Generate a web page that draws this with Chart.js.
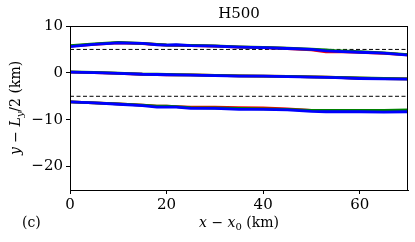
<!DOCTYPE html>
<html>
<head>
<meta charset="utf-8">
<script src="https://cdn.jsdelivr.net/npm/chart.js@4"></script>
<style>
  html, body { margin: 0; padding: 0; background: #fff; }
  #wrap { width: 415px; height: 242px; }
</style>
</head>
<body>
<div id="wrap"><canvas id="frontChart" width="415" height="242"></canvas></div>
<script>
// along-channel distance (km)
const xKm = [0, 5, 10, 15, 18, 20, 22, 25, 30, 35, 40, 45, 50, 53, 55, 60, 65, 70];

// upper front
const upperRed   = [5.7, 6.1, 6.4, 6.25, 6.05, 5.9, 5.85, 5.8, 5.7, 5.5, 5.4, 5.2, 4.9, 4.5, 4.55, 4.35, 4.15, 3.85];
const upperGreen = [5.8, 6.2, 6.5, 6.3, 6.1, 5.95, 5.9, 5.85, 5.75, 5.55, 5.45, 5.25, 5.05, 4.9, 4.75, 4.5, 4.25, 3.9];
const upperBlue  = [5.6, 6.1, 6.4, 6.3, 6.0, 5.9, 6.0, 5.8, 5.7, 5.5, 5.4, 5.2, 5.0, 4.7, 4.6, 4.4, 4.2, 3.8];

// centre line
const midRed   = [0.15, 0.05, -0.1, -0.3, -0.35, -0.4, -0.45, -0.45, -0.55, -0.65, -0.7, -0.75, -0.85, -0.9, -0.95, -1.15, -1.25, -1.3];
const midGreen = [0.2, 0.1, -0.05, -0.25, -0.3, -0.35, -0.4, -0.45, -0.55, -0.65, -0.7, -0.75, -0.85, -0.9, -0.95, -1.1, -1.2, -1.3];
const midBlue  = [0.15, 0.05, -0.1, -0.3, -0.35, -0.4, -0.45, -0.5, -0.6, -0.7, -0.7, -0.8, -0.9, -0.95, -1.0, -1.2, -1.3, -1.35];

// lower front
const lowerRed   = [-6.2, -6.4, -6.6, -6.9, -7.1, -7.1, -7.2, -7.3, -7.3, -7.4, -7.5, -7.7, -8.0, -8.1, -8.1, -8.1, -8.1, -8.0];
const lowerGreen = [-6.2, -6.4, -6.6, -6.9, -7.1, -7.1, -7.2, -7.4, -7.5, -7.6, -7.7, -7.8, -8.0, -8.0, -8.0, -8.0, -8.0, -7.9];
const lowerBlue  = [-6.2, -6.4, -6.7, -7.0, -7.3, -7.3, -7.3, -7.6, -7.6, -7.8, -7.8, -7.9, -8.2, -8.3, -8.3, -8.3, -8.4, -8.3];

// dashed reference levels
const dashedLevels = [5, -5];

const xTicks = [0, 20, 40, 60];
const yTicks = [10, 0, -10, -20];

const FONT = "'DejaVu Serif', 'Liberation Serif', serif";

function toPoints(ys) {
  return ys.map((y, i) => ({ x: xKm[i], y: y }));
}

function frontSet(ys, color, order) {
  return {
    data: toPoints(ys),
    borderColor: color,
    borderWidth: 2.8,
    pointRadius: 0,
    tension: 0,
    order: order
  };
}

const datasets = [];
[[upperRed, upperGreen, upperBlue], [midRed, midGreen, midBlue], [lowerRed, lowerGreen, lowerBlue]].forEach(group => {
  datasets.push(frontSet(group[0], '#ff0000', 3));
  datasets.push(frontSet(group[1], '#008000', 2));
  datasets.push(frontSet(group[2], '#0000ff', 1));
});
dashedLevels.forEach(level => {
  datasets.push({
    data: [{ x: 0, y: level }, { x: 70, y: level }],
    borderColor: '#000',
    borderWidth: 1,
    borderDash: [4, 2.5],
    pointRadius: 0,
    order: 4
  });
});

// frame + labels drawn on canvas (subscripts in the axis labels)
const decorations = {
  id: 'decorations',
  afterDraw(chart) {
    const { ctx, chartArea: a } = chart;
    ctx.save();
    ctx.strokeStyle = '#000';
    ctx.lineWidth = 1;
    ctx.strokeRect(a.left + 0.5, a.top + 0.5, a.right - a.left - 1, a.bottom - a.top);

    ctx.fillStyle = '#000';
    ctx.textBaseline = 'alphabetic';

    // title
    ctx.font = `15px ${FONT}`;
    ctx.textAlign = 'center';
    ctx.fillText('H500', (a.left + a.right) / 2, 18);

    // panel tag
    ctx.font = `14px ${FONT}`;
    ctx.textAlign = 'left';
    ctx.fillText('(c)', 22, 227);

    // x label: x − x0 (km)
    const parts = [
      { t: 'x', f: `italic 14px ${FONT}`, dy: 0 },
      { t: ' − ', f: `14px ${FONT}`, dy: 0 },
      { t: 'x', f: `italic 14px ${FONT}`, dy: 0 },
      { t: '0', f: `10px ${FONT}`, dy: 3 },
      { t: ' (km)', f: `14px ${FONT}`, dy: 0 }
    ];
    drawParts(ctx, parts, (a.left + a.right) / 2, 227);

    // y label: y − Ly/2 (km)
    ctx.translate(20, (a.top + a.bottom) / 2);
    ctx.rotate(-Math.PI / 2);
    const yParts = [
      { t: 'y', f: `italic 14px ${FONT}`, dy: 0 },
      { t: ' − ', f: `14px ${FONT}`, dy: 0 },
      { t: 'L', f: `italic 14px ${FONT}`, dy: 0 },
      { t: 'y', f: `italic 10px ${FONT}`, dy: 3 },
      { t: '/2 (km)', f: `14px ${FONT}`, dy: 0 }
    ];
    drawParts(ctx, yParts, 0, 0);
    ctx.restore();
  }
};

function drawParts(ctx, parts, cx, baseY) {
  let total = 0;
  parts.forEach(p => { ctx.font = p.f; total += ctx.measureText(p.t).width; });
  let x = cx - total / 2;
  ctx.textAlign = 'left';
  parts.forEach(p => {
    ctx.font = p.f;
    ctx.fillText(p.t, x, baseY + p.dy);
    x += ctx.measureText(p.t).width;
  });
}

new Chart(document.getElementById('frontChart'), {
  type: 'line',
  data: { datasets: datasets },
  options: {
    responsive: false,
    animation: false,
    layout: { padding: { top: 26, right: 7, left: 0, bottom: 0 } },
    plugins: { legend: { display: false }, tooltip: { enabled: false } },
    scales: {
      x: {
        type: 'linear',
        min: 0,
        max: 70,
        afterBuildTicks: s => { s.ticks = xTicks.map(v => ({ value: v })); },
        afterFit: s => { s.height = 52; },
        grid: { drawOnChartArea: false, tickLength: 4, color: '#000' },
        border: { color: '#000' },
        ticks: { color: '#000', padding: 2, maxRotation: 0, font: { family: FONT, size: 15 } }
      },
      y: {
        type: 'linear',
        min: -25,
        max: 10,
        afterBuildTicks: s => { s.ticks = yTicks.map(v => ({ value: v })); },
        afterFit: s => { s.width = 70; },
        grid: { drawOnChartArea: false, tickLength: 4, color: '#000' },
        border: { color: '#000' },
        ticks: {
          color: '#000',
          padding: 3,
          font: { family: FONT, size: 15 },
          callback: v => (v < 0 ? '−' + Math.abs(v) : String(v))
        }
      }
    }
  },
  plugins: [decorations]
});
</script>
</body>
</html>
